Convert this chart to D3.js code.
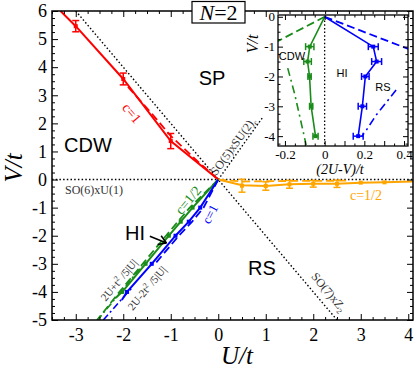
<!DOCTYPE html>
<html>
<head>
<meta charset="utf-8">
<script src="https://cdn.jsdelivr.net/npm/d3@7/dist/d3.min.js"></script>
<style>
body { margin: 0; background: #fff; }
svg { display: block; }
.tk path { display: none; }
.tk line { stroke: #000; }
.tk text { font-family: "Liberation Serif", "Times New Roman", serif; fill: #000; }
.serif { font-family: "Liberation Serif", "Times New Roman", serif; }
.sans { font-family: "Liberation Sans", Arial, sans-serif; }
</style>
</head>
<body>
<svg width="415" height="370"></svg>
<script>
// ---- main panel data (U/t, V/t) ----
var redLineU = [-3.32, -3, -2, -1, 0],
    redLineV = [6, 5.46, 3.58, 1.37, 0];
var redU = [-3, -2, -1],
    redV = [5.46, 3.58, 1.37],
    redErr = [0.2, 0.21, 0.27];
var redDashU = [-1.9, -1.4, -1, -0.5, 0],
    redDashV = [3.3, 2.35, 1.55, 0.75, 0];

var orangeLineU = [0, 0.5, 1, 1.5, 2, 2.5, 3, 3.5, 4.1],
    orangeLineV = [0, -0.2, -0.23, -0.17, -0.15, -0.15, -0.11, -0.1, -0.07];
var orangeU = [0.5, 1, 1.5, 2, 2.5, 3, 3.5],
    orangeV = [-0.22, -0.23, -0.17, -0.15, -0.15, -0.11, -0.1],
    orangeErr = [0.23, 0.15, 0.14, 0.12, 0.13, 0, 0];
var orangeDashU = [0, 0.5, 1.5, 2.7],
    orangeDashV = [0, -0.07, -0.05, -0.04];

var greenLineU = [0, -0.54, -0.79, -1.04, -1.53, -2.02, -2.17],
    greenLineV = [0, -1, -1.5, -2, -3, -4, -4.23];
var greenU = [-0.54, -0.79, -1.04, -1.53, -2.02],
    greenV = [-1, -1.5, -2, -3, -4];
var greenDashU = [0, -0.6, -0.85, -1.1, -1.59, -2.08, -2.55],
    greenDashV = [0, -1, -1.5, -2, -3, -4, -5];
var greenAsymU = [-2.55, -2.3, -2.1, -1.9, -1.6],
    greenAsymV = [-5.02, -4.51, -4.1, -3.69, -3.07];

var blueLineU = [0, -0.38, -0.62, -0.9, -1.4, -1.92, -2.03],
    blueLineV = [0, -1, -1.5, -2, -3, -4, -4.29];
var blueU = [-0.38, -0.62, -0.9, -1.4, -1.92],
    blueV = [-1, -1.5, -2, -3, -4];
var blueDashU = [0, -0.31, -0.55, -0.83, -1.33],
    blueDashV = [0, -1, -1.5, -2, -3];
var blueAsymU = [-2.42, -2.2, -2.0, -1.8],
    blueAsymV = [-5.0, -4.58, -4.2, -3.82];

// phase boundaries (dotted)
var zeroLineU = [-3.5, 4.1], zeroLineV = [0, 0];
var diagU = [-3, 2.5], diagV = [6, -5];
var so5U = [0, 0.93], so5V = [0, 2.2];

// ---- inset data ((2U-V)/t, V/t) ----
var inGreenX = [-0.075, -0.086, -0.076, -0.068, -0.046],
    inGreenV = [-1, -1.5, -2, -3, -4],
    inGreenErr = [0.021, 0.019, 0.008, 0.008, 0.013];
var inBlueX = [0.245, 0.262, 0.205, 0.19, 0.169],
    inBlueV = [-1, -1.5, -2, -3, -4],
    inBlueErr = [0.025, 0.025, 0.019, 0.021, 0.025];
var inGreenDashX = [0, -0.26], inGreenDashV = [0, -0.9];
var inBlueDashX = [0, 0.45], inBlueDashV = [0, -1.15];
var inGreenAsymX = [-0.186, -0.152, -0.127, -0.093],
    inGreenAsymV = [-1.72, -2.56, -3.29, -4.3];
var inBlueAsymX = [0.36, 0.3, 0.26, 0.21, 0.186],
    inBlueAsymV = [-2.45, -2.96, -3.29, -3.8, -4.02];

var xMajor = [-3, -2, -1, 0, 1, 2, 3, 4],
    yMajor = [-5, -4, -3, -2, -1, 0, 1, 2, 3, 4, 5, 6],
    inXMajor = [-0.2, -0.1, 0, 0.1, 0.2, 0.3, 0.4],
    inXLabels = [-0.2, 0, 0.2, 0.4],
    inYMajor = [-4, -3, -2, -1, 0];

var RED = "#ff0000", ORANGE = "#ffa500", GREEN = "#1a8c1a", BLUE = "#0000ff";

(function () {
    var svg = d3.select("svg");

    var x = d3.scaleLinear().domain([-3.5, 4.1]).range([52, 413]),
        y = d3.scaleLinear().domain([-5, 6]).range([320, 11]);
    var xi = d3.scaleLinear().domain([-0.235, 0.42]).range([278, 408]),
        yi = d3.scaleLinear().domain([-4.33, 0.06]).range([146, 15]);

    var defs = svg.append("defs");
    defs.append("clipPath").attr("id", "clipMain").append("rect")
        .attr("x", x.range()[0]).attr("y", y.range()[1])
        .attr("width", x.range()[1] - x.range()[0]).attr("height", y.range()[0] - y.range()[1]);
    defs.append("clipPath").attr("id", "clipInset").append("rect")
        .attr("x", xi.range()[0]).attr("y", yi.range()[1])
        .attr("width", xi.range()[1] - xi.range()[0]).attr("height", yi.range()[0] - yi.range()[1]);

    function pairs(a, b) {
        return a.map(function (d, i) { return [d, b[i]]; });
    }

    function drawLine(g, sx, sy, u, v, color, width, dash) {
        var line = d3.line()
            .x(function (d) { return sx(d[0]); })
            .y(function (d) { return sy(d[1]); });
        g.append("path")
            .datum(pairs(u, v))
            .attr("d", line)
            .attr("fill", "none")
            .attr("stroke", color)
            .attr("stroke-width", width)
            .attr("stroke-dasharray", dash || null);
    }

    function drawPoints(g, sx, sy, u, v, err, color, horizontal) {
        var pts = u.map(function (d, i) { return {u: d, v: v[i], e: err ? err[i] : 0}; });
        var cap = 3.5;
        var eb = g.append("g").attr("stroke", color).attr("stroke-width", 1.5);
        pts.filter(function (d) { return d.e > 0; }).forEach(function (d) {
            if (horizontal) {
                var ya = sy(d.v), x1 = sx(d.u - d.e), x2 = sx(d.u + d.e);
                eb.append("line").attr("x1", x1).attr("x2", x2).attr("y1", ya).attr("y2", ya);
                [x1, x2].forEach(function (xx) {
                    eb.append("line").attr("x1", xx).attr("x2", xx).attr("y1", ya - cap).attr("y2", ya + cap);
                });
            } else {
                var xa = sx(d.u), y1 = sy(d.v - d.e), y2 = sy(d.v + d.e);
                eb.append("line").attr("x1", xa).attr("x2", xa).attr("y1", y1).attr("y2", y2);
                [y1, y2].forEach(function (yy) {
                    eb.append("line").attr("x1", xa - cap).attr("x2", xa + cap).attr("y1", yy).attr("y2", yy);
                });
            }
        });
        g.append("g").selectAll("rect")
            .data(pts)
            .enter().append("rect")
            .attr("x", function (d) { return sx(d.u) - 2; })
            .attr("y", function (d) { return sy(d.v) - 2; })
            .attr("width", 4).attr("height", 4)
            .attr("fill", color);
    }

    function fmt(d) { return String(d); }

    function axis(gen, scale, vals, size, pad, labels, tr, fontSize) {
        var a = gen(scale).tickValues(vals).tickSizeInner(size).tickSizeOuter(0).tickPadding(pad)
            .tickFormat(function (d) { return labels && labels.indexOf(d) >= 0 ? fmt(d) : ""; });
        var g = svg.append("g").attr("class", "tk").attr("transform", tr).call(a);
        g.selectAll("text").style("font-size", fontSize + "px");
        g.selectAll("line").attr("stroke-width", 1);
        return g;
    }

    function minors(lo, hi, step, majors) {
        var out = [];
        for (var k = Math.ceil(lo / step - 1e-9); k * step <= hi + 1e-9; k++) {
            var v = +(k * step).toFixed(4);
            if (majors.indexOf(v) < 0) out.push(v);
        }
        return out;
    }

    ////////////////////////////////////////////////////////////////////////////
    // main panel
    var plot = svg.append("g").attr("clip-path", "url(#clipMain)");

    var dotted = "1.5,2.2";
    drawLine(plot, x, y, zeroLineU, zeroLineV, "#000", 1.4, dotted);
    drawLine(plot, x, y, diagU, diagV, "#000", 1.4, dotted);
    drawLine(plot, x, y, so5U, so5V, "#000", 1.4, dotted);

    drawLine(plot, x, y, greenAsymU, greenAsymV, GREEN, 1.6, "7,3,2,3");
    drawLine(plot, x, y, blueAsymU, blueAsymV, BLUE, 1.6, "7,3,2,3");

    drawLine(plot, x, y, redDashU, redDashV, RED, 1.8, "8,4");
    drawLine(plot, x, y, orangeDashU, orangeDashV, ORANGE, 1.8, "8,4");
    drawLine(plot, x, y, greenDashU, greenDashV, GREEN, 1.8, "8,4");
    drawLine(plot, x, y, blueDashU, blueDashV, BLUE, 1.8, "8,4");

    drawLine(plot, x, y, redLineU, redLineV, RED, 2);
    drawLine(plot, x, y, orangeLineU, orangeLineV, ORANGE, 2);
    drawLine(plot, x, y, greenLineU, greenLineV, GREEN, 2);
    drawLine(plot, x, y, blueLineU, blueLineV, BLUE, 2);

    drawPoints(plot, x, y, redU, redV, redErr, RED, false);
    drawPoints(plot, x, y, orangeU, orangeV, orangeErr, ORANGE, false);
    drawPoints(plot, x, y, greenU, greenV, null, GREEN, false);
    drawPoints(plot, x, y, blueU, blueV, null, BLUE, false);

    // axes: ticks inward on all four sides
    var xMinor = minors(-3.5, 4.1, 0.25, xMajor),
        yMinor = minors(-5, 6, 0.25, yMajor);
    var x0 = x.range()[0], x1 = x.range()[1], y0 = y.range()[0], y1 = y.range()[1];
    axis(d3.axisBottom, x, xMajor, -6, 8, xMajor, "translate(0," + y0 + ")", 18);
    axis(d3.axisBottom, x, xMinor, -3, 0, null, "translate(0," + y0 + ")", 18);
    axis(d3.axisTop, x, xMajor, -6, 0, null, "translate(0," + y1 + ")", 18);
    axis(d3.axisTop, x, xMinor, -3, 0, null, "translate(0," + y1 + ")", 18);
    axis(d3.axisLeft, y, yMajor, -6, 5, yMajor, "translate(" + x0 + ",0)", 18);
    axis(d3.axisLeft, y, yMinor, -3, 0, null, "translate(" + x0 + ",0)", 18);
    axis(d3.axisRight, y, yMajor, -6, 0, null, "translate(" + x1 + ",0)", 18);
    axis(d3.axisRight, y, yMinor, -3, 0, null, "translate(" + x1 + ",0)", 18);

    svg.append("rect")
        .attr("x", x0).attr("y", y1).attr("width", x1 - x0).attr("height", y0 - y1)
        .attr("fill", "none").attr("stroke", "#000").attr("stroke-width", 1.5);

    // axis titles
    svg.append("text").attr("class", "serif")
        .attr("x", 237).attr("y", 364).attr("text-anchor", "middle")
        .style("font-size", "25px").style("font-style", "italic").text("U/t");
    svg.append("text").attr("class", "serif")
        .attr("transform", "translate(22,168) rotate(-90)").attr("text-anchor", "middle")
        .style("font-size", "25px").style("font-style", "italic").text("V/t");

    // phase labels
    [["SP", 212, 85], ["CDW", 88, 152], ["RS", 262, 275], ["HI", 135, 240]].forEach(function (l) {
        svg.append("text").attr("class", "sans")
            .attr("x", l[1]).attr("y", l[2]).attr("text-anchor", "middle")
            .style("font-size", "20px").text(l[0]);
    });

    // HI arrow
    var tail = [x(-1.44), y(-2.02)], tip = [x(-1.09), y(-2.26)];
    var ang = Math.atan2(tip[1] - tail[1], tip[0] - tail[0]), hl = 9;
    var arrow = svg.append("g").attr("stroke", "#000").attr("stroke-width", 1.5).attr("fill", "none");
    arrow.append("line").attr("x1", tail[0]).attr("y1", tail[1]).attr("x2", tip[0]).attr("y2", tip[1]);
    [-0.55, 0.55].forEach(function (da) {
        arrow.append("line").attr("x1", tip[0]).attr("y1", tip[1])
            .attr("x2", tip[0] - hl * Math.cos(ang + da)).attr("y2", tip[1] - hl * Math.sin(ang + da));
    });

    // annotations along the lines
    function rotText(cx, cy, rot, size, color) {
        return svg.append("text").attr("class", "serif")
            .attr("transform", "translate(" + cx + "," + cy + ") rotate(" + rot + ")")
            .attr("text-anchor", "middle").attr("dy", "0.35em")
            .style("font-size", size + "px").attr("fill", color);
    }
    rotText(132, 113, 50, 14, RED).text("c=1");
    rotText(188, 200, -50, 14, GREEN).text("c=1/2");
    rotText(210, 214, -63, 13, BLUE).text("c=1");
    rotText(366, 195, 0, 14, ORANGE).text("c=1/2");

    svg.append("text").attr("class", "serif")
        .attr("x", 65).attr("y", 194).style("font-size", "12px").attr("fill", "#333")
        .text("SO(6)xU(1)");

    var so5 = rotText(233, 146, -54, 12, "#333");
    so5.append("tspan").text("SO(5)xSU(2)");
    so5.append("tspan").attr("dy", 3).style("font-size", "8px").text("c");

    var so7 = rotText(329, 292, 50, 12, "#333");
    so7.append("tspan").text("SO(7)xZ");
    so7.append("tspan").attr("dy", 3).style("font-size", "8px").text("2");

    var gp = rotText(119, 280, -50, 11, "#333");
    gp.append("tspan").text("2U+t");
    gp.append("tspan").attr("dy", -4).style("font-size", "8px").text("2");
    gp.append("tspan").attr("dy", 4).text(" /5|U|");

    var bp = rotText(147, 288, -50, 11, "#333");
    bp.append("tspan").text("2U-2t");
    bp.append("tspan").attr("dy", -4).style("font-size", "8px").text("2");
    bp.append("tspan").attr("dy", 4).text(" /5|U|");

    // N=2 box
    svg.append("rect").attr("x", 192).attr("y", 1.5).attr("width", 53).attr("height", 21.5)
        .attr("fill", "#fff").attr("stroke", "#000").attr("stroke-width", 1.2);
    var nt = svg.append("text").attr("class", "serif")
        .attr("x", 218.5).attr("y", 20).attr("text-anchor", "middle").style("font-size", "22px");
    nt.append("tspan").style("font-style", "italic").text("N");
    nt.append("tspan").text("=2");

    ////////////////////////////////////////////////////////////////////////////
    // inset
    var ix0 = xi.range()[0], ix1 = xi.range()[1], iy0 = yi.range()[0], iy1 = yi.range()[1];
    svg.append("rect").attr("x", ix0).attr("y", iy1).attr("width", ix1 - ix0).attr("height", iy0 - iy1)
        .attr("fill", "#fff");
    var inset = svg.append("g").attr("clip-path", "url(#clipInset)");

    drawLine(inset, xi, yi, [0, 0], [0, -4.33], "#000", 1.3, "1.5,2.2");
    drawLine(inset, xi, yi, inGreenDashX, inGreenDashV, GREEN, 1.8, "8,4");
    drawLine(inset, xi, yi, inBlueDashX, inBlueDashV, BLUE, 1.8, "8,4");
    drawLine(inset, xi, yi, inGreenAsymX, inGreenAsymV, GREEN, 1.6, "8,4,2,4");
    drawLine(inset, xi, yi, inBlueAsymX, inBlueAsymV, BLUE, 1.6, "8,4,2,4");
    drawLine(inset, xi, yi, [0].concat(inGreenX), [0].concat(inGreenV), GREEN, 1.6);
    drawLine(inset, xi, yi, [0].concat(inBlueX), [0].concat(inBlueV), BLUE, 1.6);
    drawPoints(inset, xi, yi, inGreenX, inGreenV, inGreenErr, GREEN, true);
    drawPoints(inset, xi, yi, inBlueX, inBlueV, inBlueErr, BLUE, true);

    var inXMinor = minors(-0.2, 0.4, 0.05, inXMajor),
        inYMinor = minors(-4.25, 0, 0.25, inYMajor);
    axis(d3.axisBottom, xi, inXMajor, -5, 4, inXLabels, "translate(0," + iy0 + ")", 13);
    axis(d3.axisBottom, xi, inXMinor, -2.5, 0, null, "translate(0," + iy0 + ")", 13);
    axis(d3.axisTop, xi, inXMajor, -5, 0, null, "translate(0," + iy1 + ")", 13);
    axis(d3.axisTop, xi, inXMinor, -2.5, 0, null, "translate(0," + iy1 + ")", 13);
    axis(d3.axisLeft, yi, inYMajor, -5, 3, inYMajor, "translate(" + ix0 + ",0)", 13);
    axis(d3.axisLeft, yi, inYMinor, -2.5, 0, null, "translate(" + ix0 + ",0)", 13);
    axis(d3.axisRight, yi, inYMajor, -5, 0, null, "translate(" + ix1 + ",0)", 13);
    axis(d3.axisRight, yi, inYMinor, -2.5, 0, null, "translate(" + ix1 + ",0)", 13);

    svg.append("rect").attr("x", ix0).attr("y", iy1).attr("width", ix1 - ix0).attr("height", iy0 - iy1)
        .attr("fill", "none").attr("stroke", "#000").attr("stroke-width", 1.3);

    svg.append("text").attr("class", "serif")
        .attr("x", 340).attr("y", 174).attr("text-anchor", "middle")
        .style("font-size", "14px").style("font-style", "italic").text("(2U-V)/t");
    svg.append("text").attr("class", "serif")
        .attr("transform", "translate(258,44) rotate(-90)").attr("text-anchor", "middle")
        .style("font-size", "16px").style("font-style", "italic").text("V/t");

    [["CDW", 292, 60], ["HI", 342, 77], ["RS", 383, 91]].forEach(function (l) {
        svg.append("text").attr("class", "sans")
            .attr("x", l[1]).attr("y", l[2]).attr("text-anchor", "middle")
            .style("font-size", "11px").text(l[0]);
    });
})();
</script>
</body>
</html>
